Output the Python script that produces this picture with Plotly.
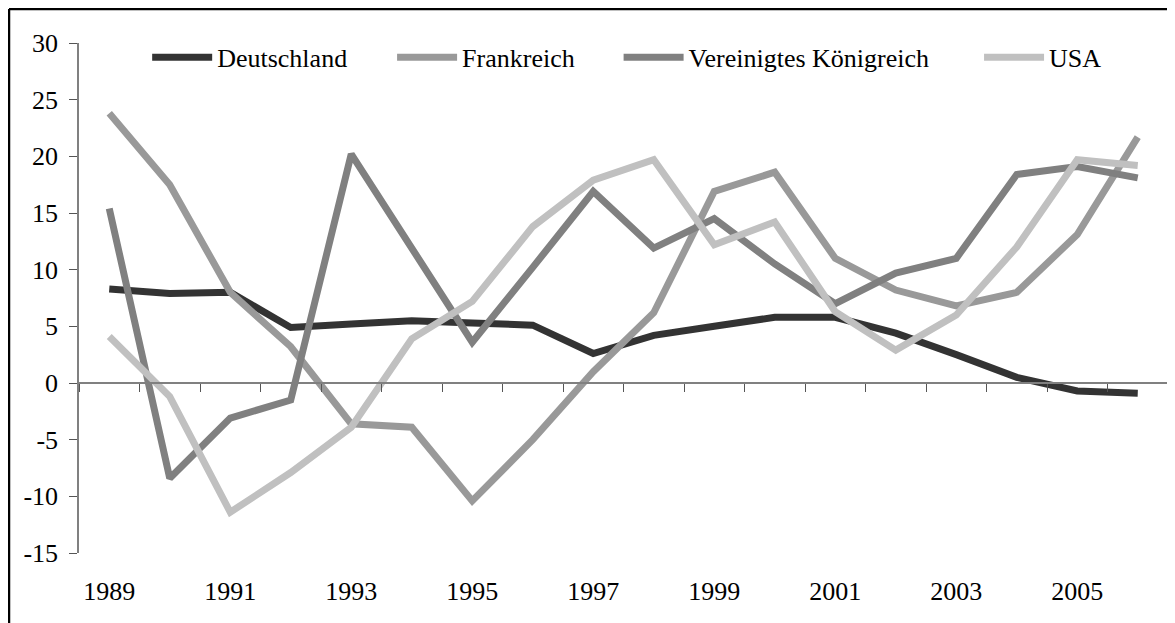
import plotly.graph_objects as go

years = list(range(1989, 2007))
deutschland = [8.3, 7.9, 8.0, 4.9, 5.2, 5.5, 5.3, 5.1, 2.6, 4.2, 5.0, 5.8, 5.8, 4.4, 2.5, 0.5, -0.7, -0.9]
frankreich = [23.8, 17.5, 8.0, 3.2, -3.6, -3.9, -10.4, -5.0, 1.0, 6.2, 16.9, 18.6, 11.0, 8.2, 6.8, 8.0, 13.1, 21.7]
vereinigtes_koenigreich = [15.4, -8.4, -3.1, -1.5, 20.2, 12.0, 3.6, 10.2, 16.9, 11.9, 14.5, 10.5, 7.0, 9.7, 11.0, 18.4, 19.1, 18.1]
usa = [4.1, -1.2, -11.4, -7.9, -3.9, 3.9, 7.2, 13.8, 17.9, 19.7, 12.2, 14.2, 6.3, 2.9, 6.0, 12.0, 19.7, 19.2]

series_names = ["Deutschland", "Frankreich", "Vereinigtes Königreich", "USA"]
series_values = [deutschland, frankreich, vereinigtes_koenigreich, usa]
series_colors = ["#333333", "#999999", "#808080", "#c0c0c0"]
legend_ids = ["legend", "legend2", "legend3", "legend4"]
legend_x = [0.0626, 0.2875, 0.4955, 0.8265]

y_ticks = [30, 25, 20, 15, 10, 5, 0, -5, -10, -15]
y_tick_text = ["30", "25", "20", "15", "10", "5", "0", "-5", "-10", "-15"]
x_label_years = [1989, 1991, 1993, 1995, 1997, 1999, 2001, 2003, 2005]
x_boundaries = [y - 0.5 for y in range(1989, 2008)]

FONT = "Liberation Serif, Times New Roman, serif"

W, H = 1175, 623
ML, MT = 71, 35
PW, PH = 1089, 510
MR = W - ML - PW
MB = H - MT - PH

fig = go.Figure()
for name, vals, col, lid in zip(series_names, series_values, series_colors, legend_ids):
    fig.add_trace(go.Scatter(x=years, y=vals, name=name, mode="lines",
                             line=dict(color=col, width=7), legend=lid,
                             xaxis="x"))
# invisible trace for the zero-line tick axis
fig.add_trace(go.Scatter(x=years, y=[None]*len(years), xaxis="x2", showlegend=False,
                         hoverinfo="skip"))

legend_common = dict(orientation="h", yanchor="middle", xanchor="left", y=0.972,
                     font=dict(family=FONT, size=26, color="black"),
                     bgcolor="rgba(0,0,0,0)", itemwidth=60)
layout_legends = {}
for lid, lx in zip(legend_ids, legend_x):
    layout_legends[lid] = dict(legend_common, x=lx)

border_x0 = (-ML + 1) / PW
border_y1 = 1 + (MT - 1) / PH

fig.update_layout(
    width=W, height=H,
    margin=dict(l=ML, r=MR, t=MT, b=MB, autoexpand=False),
    paper_bgcolor="white", plot_bgcolor="white",
    font=dict(family=FONT, size=26, color="black"),
    showlegend=True,
    xaxis=dict(range=[1988.5, 2006.5], tickmode="array", tickvals=x_label_years,
               ticks="", showline=False, showgrid=False, zeroline=False, automargin=False,
               ticklabelstandoff=20, tickfont=dict(family=FONT, size=26, color="black")),
    xaxis2=dict(range=[1988.5, 2006.5], overlaying="x", anchor="free", position=1/3,
                side="bottom", tickmode="array", tickvals=x_boundaries, showticklabels=False,
                ticks="outside", ticklen=8, tickwidth=1.3, tickcolor="#555555", automargin=False,
                showline=True, linecolor="#808080", linewidth=1.5, showgrid=False, zeroline=False),
    yaxis=dict(range=[-15, 30], tickmode="array", tickvals=y_ticks, ticktext=y_tick_text,
               ticks="outside", automargin=False,
               ticklen=8, tickwidth=1.3, tickcolor="#555555", showline=True,
               linecolor="#808080", linewidth=1.5, showgrid=False, zeroline=False,
               ticklabelstandoff=6, tickfont=dict(family=FONT, size=26, color="black")),
    shapes=[
        dict(type="line", xref="paper", yref="paper", x0=border_x0, x1=1.2,
             y0=border_y1, y1=border_y1, line=dict(color="black", width=2.5), layer="above"),
        dict(type="line", xref="paper", yref="paper", x0=border_x0, x1=border_x0,
             y0=-0.3, y1=border_y1, line=dict(color="black", width=2.5), layer="above"),
    ],
    **layout_legends,
)

fig.write_html("out.html")
